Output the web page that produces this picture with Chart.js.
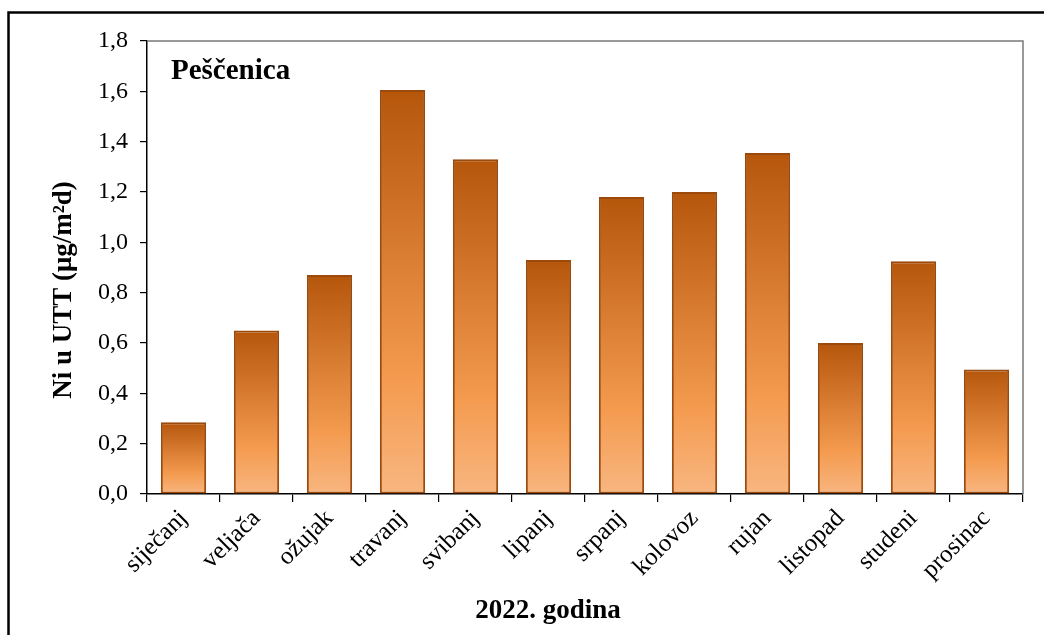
<!DOCTYPE html>
<html>
<head>
<meta charset="utf-8">
<script src="https://cdn.jsdelivr.net/npm/chart.js@4/dist/chart.umd.min.js"></script>
<style>
  html, body { margin: 0; padding: 0; background: #fff; }
  #wrap { width: 1044px; height: 635px; position: relative; }
</style>
</head>
<body>
<div id="wrap"><canvas id="c" width="1044" height="635"></canvas></div>
<script>
// Monthly Ni deposition, Peščenica station, 2022
const months = ['siječanj', 'veljača', 'ožujak', 'travanj', 'svibanj', 'lipanj',
                'srpanj', 'kolovoz', 'rujan', 'listopad', 'studeni', 'prosinac'];
const niValues = [0.285, 0.65, 0.87, 1.605, 1.33, 0.93, 1.18, 1.20, 1.355, 0.60, 0.925, 0.495];
const yTicks = [0, 0.2, 0.4, 0.6, 0.8, 1.0, 1.2, 1.4, 1.6, 1.8];
const stationName = 'Peščenica';
const xTitle = '2022. godina';
const yTitle = 'Ni u UTT (μg/m²d)';

const SERIF = '"Liberation Serif", "Times New Roman", serif';

// Vertical orange gradient spanning each bar from its top down to zero
function barGradient(ctx) {
  const chart = ctx.chart;
  if (!chart.chartArea) return '#e07b2c';
  const y = chart.scales.y;
  const top = y.getPixelForValue(ctx.raw);
  const bot = y.getPixelForValue(0);
  const g = chart.ctx.createLinearGradient(0, top, 0, bot);
  g.addColorStop(0, '#b5560b');
  g.addColorStop(0.72, '#f49b50');
  g.addColorStop(1, '#f8b680');
  return g;
}

// Frame, plot border and text labels
const decor = {
  id: 'decor',
  beforeDraw(chart) {
    const c = chart.ctx;
    c.save();
    c.fillStyle = '#fff';
    c.fillRect(0, 0, chart.width, chart.height);
    c.strokeStyle = '#000';
    c.lineWidth = 2.5;
    c.beginPath();
    c.moveTo(8.5, 700);
    c.lineTo(8.5, 12.5);
    c.lineTo(1100, 12.5);
    c.stroke();
    c.restore();
  },
  afterDraw(chart) {
    const c = chart.ctx;
    const a = chart.chartArea;
    c.save();
    c.strokeStyle = '#7a7a7a';
    c.lineWidth = 1.5;
    c.beginPath();
    c.moveTo(a.left, a.top);
    c.lineTo(a.right, a.top);
    c.lineTo(a.right, a.bottom);
    c.stroke();

    c.fillStyle = '#000';
    c.font = 'bold 29px ' + SERIF;
    c.textAlign = 'left';
    c.textBaseline = 'alphabetic';
    c.fillText(stationName, 171, 79);

    c.font = 'bold 27px ' + SERIF;
    c.textAlign = 'center';
    c.fillText(xTitle, 548, 618);

    c.translate(71, 290);
    c.rotate(-Math.PI / 2);
    c.font = 'bold 27px ' + SERIF;
    c.textAlign = 'center';
    c.fillText(yTitle, 0, 0);
    c.restore();
  }
};

new Chart(document.getElementById('c'), {
  type: 'bar',
  data: {
    labels: months,
    datasets: [{
      data: niValues,
      backgroundColor: barGradient,
      borderColor: '#9b4a0c',
      borderWidth: 2,
      borderSkipped: false,
      barPercentage: 0.62,
      categoryPercentage: 1.0
    }]
  },
  options: {
    responsive: false,
    animation: false,
    devicePixelRatio: 1,
    layout: { padding: { left: 8, top: 41, right: 21, bottom: 0 } },
    plugins: { legend: { display: false }, tooltip: { enabled: false } },
    scales: {
      x: {
        afterFit(s) { s.height = 141; },
        grid: { drawOnChartArea: false, offset: true, tickLength: 8, color: '#000', lineWidth: 1.2 },
        border: { display: true, color: '#000', width: 1.5 },
        ticks: {
          maxRotation: 45, minRotation: 45, padding: 2,
          color: '#000',
          font: { family: SERIF, size: 25 }
        }
      },
      y: {
        min: 0, max: 1.8,
        afterFit(s) { s.width = 139; },
        afterBuildTicks(s) { s.ticks = yTicks.map(v => ({ value: v })); },
        grid: { drawOnChartArea: false, tickLength: 7, color: '#000', lineWidth: 1.2 },
        border: { display: true, color: '#000', width: 1.5 },
        ticks: {
          padding: 12,
          color: '#000',
          font: { family: SERIF, size: 24 },
          callback: v => v.toFixed(1).replace('.', ',')
        }
      }
    }
  },
  plugins: [decor]
});
</script>
</body>
</html>
